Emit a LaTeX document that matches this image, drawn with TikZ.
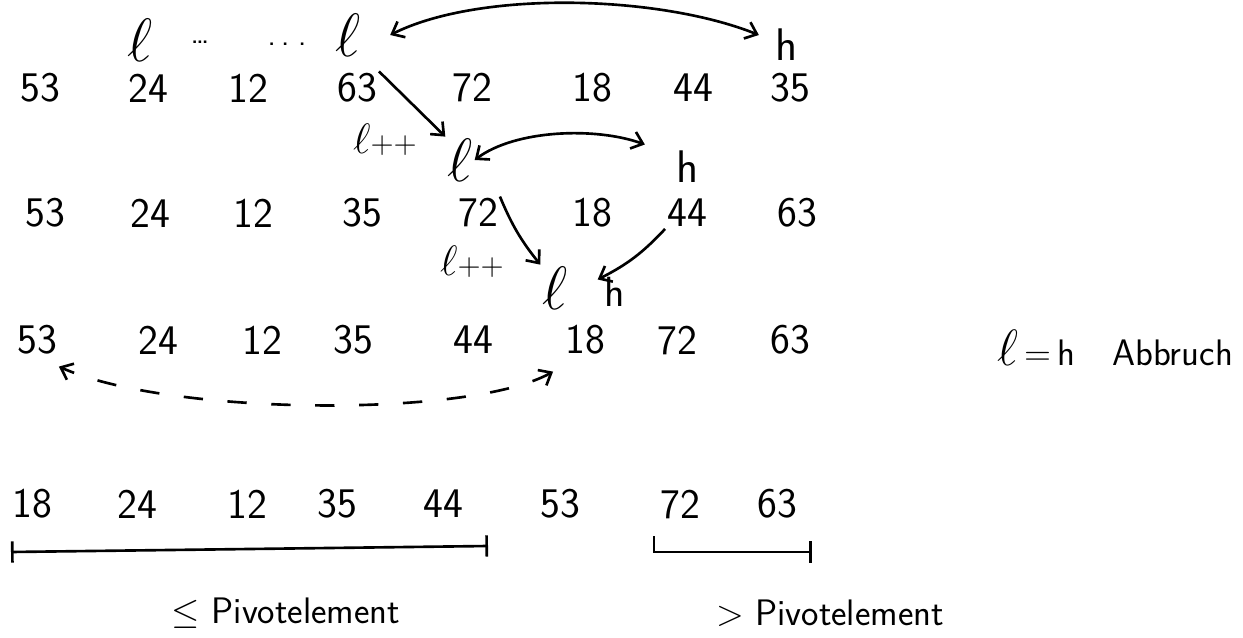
\documentclass[tikz,border=0pt]{standalone}
\usepackage{amsmath}
\usepackage{fontspec}
\usepackage{tikz}
\usetikzlibrary{arrows.meta, positioning}

\newcommand{\lptr}{\scalebox{1.4}{$\ell$}}

\begin{document}
\begin{tikzpicture}[x=0.02cm, y=-0.02cm,
            num/.style={font=\sffamily\fontsize{24}{28}\selectfont, inner sep=1pt},
            pointer/.style={font=\sffamily\fontsize{26}{30}\selectfont, inner sep=1pt},
            ptrsmall/.style={font=\sffamily\fontsize{18}{20}\selectfont, inner sep=1pt},
            note/.style={font=\sffamily\fontsize{21}{25}\selectfont, inner sep=1pt},
            arrow/.style={line width=1.5pt, ->, >={Straight Barb[length=6pt, width=10pt]}},
            twoway/.style={line width=1.5pt, <->, >={Straight Barb[length=6pt, width=10pt]}},
            bracketline/.style={line width=1.5pt, {Bar[width=12pt]}-{Bar[width=12pt]}}]
            \useasboundingbox (0,0) rectangle (1243,638);

            % Row 1
            \foreach \v/\x [count=\i] in {53/40, 24/148, 12/248, 63/357, 72/472, 18/592, 44/693, 35/790}
                \node[num] (a\i) at (\x,88) {\v};
            \node[pointer] (l1) at (140,40) {\lptr};
            \node[ptrsmall] (dots1) at (200,42) {\dots};
            \node[ptrsmall] (dots2) at (287,44) {.\,.\;.};
            \node[pointer] (l2) at (348,35) {\lptr};
            \node[pointer] (h1) at (787,45) {h};
            \draw[twoway] ([xshift=0.55cm]l2.east) .. controls +(90,-45) and +(-100,-40) .. ([xshift=-0.3cm,yshift=0.2cm]h1.west);

            % Row 2
            \foreach \v/\x [count=\i] in {53/45, 24/150, 12/253, 35/362, 72/478, 18/592, 44/687, 63/797}
                \node[num] (b\i) at (\x,213) {\v};
            \node[pointer] (l3) at (460,160) {\lptr};
            \node[pointer] (h2) at (688,167) {h};
            \node[ptrsmall] (inc1) at (385,140) {\lptr++};
            \draw[arrow] (a4.north east) -- (l3.north west);
            \draw[twoway] (l3.east) .. controls +(40,-30) and +(-50,-18) .. ([xshift=-0.6cm,yshift=0.45cm]h2.west);

            % Row 3
            \foreach \v/\x [count=\i] in {53/37, 24/158, 12/262, 35/353, 44/473, 18/585, 72/677, 63/790}
                \node[num] (c\i) at (\x,340) {\v};
            \node[pointer] (l4) at (555,288) {\lptr};
            \node[num] (h4) at (615,292) {h};
            \node[ptrsmall] (inc2) at (472,262) {\lptr++};
            \node[note] (abort) at (1115,348) {\lptr\,=\,h\quad Abbruch};
            \draw[arrow] (b5.north east) to[bend right=8] (l4.north west);
            \draw[arrow] (b7.south west) to[bend left=10] ([xshift=-0.1cm,yshift=0.25cm]h4.west);
            \draw[twoway, dashed, dash pattern=on 11pt off 14pt] ([xshift=-0.2cm,yshift=-0.3cm]c6.south west) .. controls (470,418) and (170,416) .. ([yshift=-0.2cm]c1.south east);

            % Row 4
            \foreach \v/\x [count=\i] in {18/32, 24/137, 12/247, 35/337, 44/443, 53/560, 72/680, 63/777}
                \node[num] (d\i) at (\x,504) {\v};
            \coordinate (lowL) at (11,552);
            \coordinate (lowR) at (488,546);
            \coordinate (highL) at (654,536);
            \coordinate (highR) at (812,552);
            \draw[bracketline] (lowL) -- (lowR);
            \draw[line width=1.5pt, -{Bar[width=12pt]}] (highL) |- (highR);
            \node[note] (lesser) at (286,613) {$\leq$ Pivotelement};
            \node[note] (greater) at (830,613) {$>$ Pivotelement};
\end{tikzpicture}
\end{document}
